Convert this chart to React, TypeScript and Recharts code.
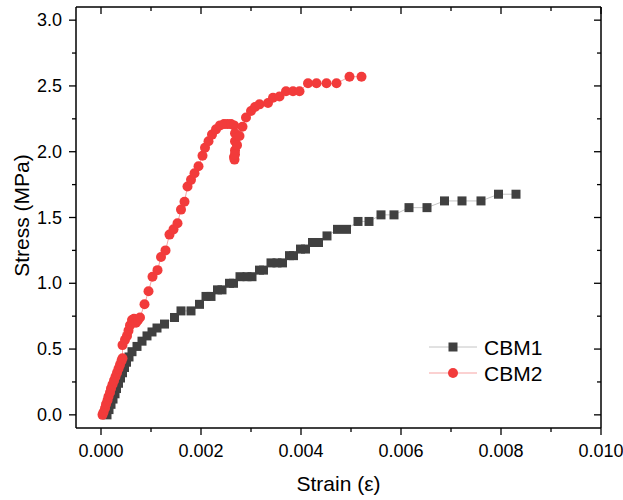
import React from 'react';
import { ScatterChart, Scatter, XAxis, YAxis, Legend, Label } from 'recharts';

const strainCBM1 = [
  0.00012, 0.00016, 0.0002, 0.00024, 0.00028, 0.00031, 0.00035, 0.00039, 0.00043, 0.00047,
  0.00051, 0.00056, 0.00062, 0.00072, 0.00082, 0.00092, 0.00102, 0.00112, 0.00127, 0.00147,
  0.0016, 0.0018, 0.00197, 0.0021, 0.0022, 0.00233, 0.00242, 0.00257, 0.00265, 0.00278,
  0.00292, 0.00302, 0.00317, 0.00325, 0.0034, 0.00352, 0.00363, 0.00377, 0.00385, 0.00399,
  0.00409, 0.00423, 0.00435, 0.00452, 0.00473, 0.00491, 0.00514, 0.00536, 0.0056, 0.00586,
  0.00616, 0.00652, 0.00687, 0.00722, 0.0076, 0.00795, 0.0083,
];
const stressCBM1 = [
  0.0, 0.04, 0.08, 0.12, 0.16, 0.2, 0.24, 0.28, 0.32, 0.36,
  0.4, 0.44, 0.48, 0.52, 0.56, 0.6, 0.63, 0.66, 0.69, 0.74,
  0.79, 0.79, 0.84, 0.9, 0.9, 0.95, 0.95, 1.0, 1.0, 1.05,
  1.05, 1.05, 1.1, 1.1, 1.155, 1.155, 1.155, 1.21, 1.21, 1.26,
  1.26, 1.31, 1.31, 1.36, 1.41, 1.41, 1.47, 1.47, 1.52, 1.52,
  1.575, 1.575, 1.626, 1.626, 1.626, 1.677, 1.677,
];
const strainCBM2 = [
  0.00003, 0.00005, 0.00008, 0.0001, 0.00013, 0.00015, 0.00018, 0.0002, 0.00023, 0.00026,
  0.00029, 0.00032, 0.00035, 0.00038, 0.00041, 0.00043, 0.00043, 0.00048, 0.00052, 0.00055,
  0.00058, 0.00062, 0.00066, 0.0007, 0.00074, 0.00078, 0.00087, 0.00095, 0.00103, 0.00113,
  0.0012, 0.00129, 0.00137, 0.00145, 0.00153, 0.0016, 0.00167, 0.00173, 0.0018, 0.00187,
  0.00195, 0.00203, 0.00208, 0.00215, 0.00222, 0.0023, 0.00238, 0.00246, 0.00253, 0.0026,
  0.00266, 0.00268, 0.00268, 0.00268, 0.00267, 0.00266, 0.00268, 0.00272, 0.00277, 0.00283,
  0.0029, 0.003, 0.00308, 0.00317, 0.00334, 0.00344, 0.00357, 0.0037, 0.00384, 0.00397,
  0.00414, 0.00431, 0.00451, 0.00471, 0.00497, 0.00521,
];
const stressCBM2 = [
  0.0, 0.02, 0.05, 0.08, 0.11, 0.14, 0.17, 0.2, 0.23, 0.26,
  0.29, 0.32, 0.35, 0.38, 0.41, 0.43, 0.53, 0.57, 0.6, 0.64,
  0.68, 0.72, 0.73, 0.7, 0.72, 0.74, 0.84, 0.94, 1.05, 1.1,
  1.2, 1.25, 1.37, 1.41, 1.456, 1.56, 1.62, 1.735, 1.786, 1.837,
  1.89, 1.97, 2.03, 2.08, 2.13, 2.17, 2.2, 2.21, 2.21, 2.21,
  2.2, 2.14, 2.08, 2.01, 1.94, 1.96, 1.98, 2.05, 2.12, 2.19,
  2.26, 2.31, 2.34, 2.36, 2.37, 2.41, 2.42, 2.46, 2.46, 2.46,
  2.52, 2.52, 2.52, 2.52, 2.57, 2.57,
];
const seriesNames = ['CBM1', 'CBM2'];
const xTicks = [0, 0.001, 0.002, 0.003, 0.004, 0.005, 0.006, 0.007, 0.008, 0.009, 0.01];
const yTicks = [0, 0.25, 0.5, 0.75, 1.0, 1.25, 1.5, 1.75, 2.0, 2.25, 2.5, 2.75, 3.0];
const xAxisTitle = 'Strain (\u03b5)';
const yAxisTitle = 'Stress (MPa)';

const FONT = '"Liberation Sans", Arial, Helvetica, sans-serif';
const C1 = '#404040';
const C2 = '#f23b3b';
const L1 = '#c4c4c4';
const L2 = '#f7a3a3';

const cbm1Data = strainCBM1.map((x, i) => ({ x, y: stressCBM1[i] }));
const cbm2Data = strainCBM2.map((x, i) => ({ x, y: stressCBM2[i] }));

const isMajorX = (v: number) => Math.round(v * 1000) % 2 === 0;
const isMajorY = (v: number) => Math.round(v * 4) % 2 === 0;

const BottomTick = (p: any) => {
  const { x, y, payload } = p;
  const major = isMajorX(payload.value);
  return (
    <g>
      <line x1={x} x2={x} y1={y} y2={y + (major ? 7 : 4)} stroke="#000" strokeWidth={1.3} />
      {major && (
        <text x={x} y={y + 29} textAnchor="middle" fontSize={18} fontFamily={FONT} fill="#000">
          {payload.value.toFixed(3)}
        </text>
      )}
    </g>
  );
};
const TopTick = (p: any) => {
  const { x, y, payload } = p;
  const major = isMajorX(payload.value);
  return <line x1={x} x2={x} y1={y} y2={y + (major ? 7 : 4)} stroke="#000" strokeWidth={1.3} />;
};
const LeftTick = (p: any) => {
  const { x, y, payload } = p;
  const major = isMajorY(payload.value);
  return (
    <g>
      <line x1={x} x2={x - (major ? 7 : 4)} y1={y} y2={y} stroke="#000" strokeWidth={1.3} />
      {major && (
        <text x={x - 14} y={y + 6} textAnchor="end" fontSize={18} fontFamily={FONT} fill="#000">
          {payload.value.toFixed(1)}
        </text>
      )}
    </g>
  );
};
const RightTick = (p: any) => {
  const { x, y, payload } = p;
  const major = isMajorY(payload.value);
  return <line x1={x} x2={x - (major ? 7 : 4)} y1={y} y2={y} stroke="#000" strokeWidth={1.3} />;
};

const SquareShape = (p: any) => (
  <rect x={p.cx - 4.5} y={p.cy - 4.5} width={9} height={9} fill={C1} />
);
const CircleShape = (p: any) => <circle cx={p.cx} cy={p.cy} r={5} fill={C2} />;

const XTitle = (p: any) => {
  const vb = p.viewBox;
  return (
    <text x={vb.x + vb.width / 2} y={vb.y + 63} textAnchor="middle" fontSize={21} fontFamily={FONT} fill="#000">
      {xAxisTitle}
    </text>
  );
};
const YTitle = (p: any) => {
  const vb = p.viewBox;
  const cx = vb.x + 29;
  const cy = vb.y + vb.height / 2 - 2;
  return (
    <text x={cx} y={cy} transform={`rotate(-90 ${cx} ${cy})`} textAnchor="middle" fontSize={21} fontFamily={FONT} fill="#000">
      {yAxisTitle}
    </text>
  );
};

const LegendContent = () => {
  const rows = [
    { name: seriesNames[0], line: L1, kind: 'square' },
    { name: seriesNames[1], line: L2, kind: 'circle' },
  ];
  return (
    <svg width={150} height={54} style={{ display: 'block' }}>
      {rows.map((r, i) => {
        const cy = 14 + i * 26;
        return (
          <g key={r.name}>
            <line x1={4} x2={52} y1={cy} y2={cy} stroke={r.line} strokeWidth={1} />
            {r.kind === 'square' ? (
              <rect x={23.5} y={cy - 4.5} width={9} height={9} fill={C1} />
            ) : (
              <circle cx={28} cy={cy} r={5} fill={C2} />
            )}
            <text x={59} y={cy + 7.5} fontSize={21} fontFamily={FONT} fill="#000">
              {r.name}
            </text>
          </g>
        );
      })}
    </svg>
  );
};

export default function App() {
  return (
    <div style={{ position: 'absolute', left: 0, top: 0, background: '#fff' }}>
      <ScatterChart width={623} height={500} margin={{ top: 6, right: 21, bottom: 0, left: 0 }}>
        <XAxis
          xAxisId="b"
          type="number"
          dataKey="x"
          domain={[-0.0005, 0.01]}
          ticks={xTicks}
          interval={0}
          height={72}
          tickSize={0}
          tickMargin={0}
          tick={BottomTick}
          tickLine={false}
          axisLine={{ stroke: '#000', strokeWidth: 1.5 }}
          allowDataOverflow
        >
          <Label content={XTitle} />
        </XAxis>
        <XAxis
          xAxisId="t"
          orientation="top"
          type="number"
          dataKey="x"
          domain={[-0.0005, 0.01]}
          ticks={xTicks}
          interval={0}
          height={1}
          tickSize={0}
          tickMargin={0}
          tick={TopTick}
          tickLine={false}
          axisLine={{ stroke: '#000', strokeWidth: 1.5 }}
          allowDataOverflow
        />
        <YAxis
          yAxisId="l"
          type="number"
          dataKey="y"
          domain={[-0.1, 3.1]}
          ticks={yTicks}
          interval={0}
          width={76}
          tickSize={0}
          tickMargin={0}
          tick={LeftTick}
          tickLine={false}
          axisLine={{ stroke: '#000', strokeWidth: 1.5 }}
          allowDataOverflow
        >
          <Label content={YTitle} />
        </YAxis>
        <YAxis
          yAxisId="r"
          orientation="right"
          type="number"
          dataKey="y"
          domain={[-0.1, 3.1]}
          ticks={yTicks}
          interval={0}
          width={1}
          tickSize={0}
          tickMargin={0}
          tick={RightTick}
          tickLine={false}
          axisLine={{ stroke: '#000', strokeWidth: 1.5 }}
          allowDataOverflow
        />
        <Scatter
          name={seriesNames[0]}
          data={cbm1Data}
          xAxisId="b"
          yAxisId="l"
          shape={SquareShape}
          line={{ stroke: L1, strokeWidth: 1 }}
          isAnimationActive={false}
        />
        <Scatter
          name={seriesNames[1]}
          data={cbm2Data}
          xAxisId="b"
          yAxisId="l"
          shape={CircleShape}
          line={{ stroke: L2, strokeWidth: 1 }}
          isAnimationActive={false}
        />
        <Legend
          layout="vertical"
          align="center"
          verticalAlign="middle"
          content={LegendContent}
          wrapperStyle={{ position: 'absolute', left: 425, top: 333, width: 150, height: 54 }}
        />
      </ScatterChart>
    </div>
  );
}
